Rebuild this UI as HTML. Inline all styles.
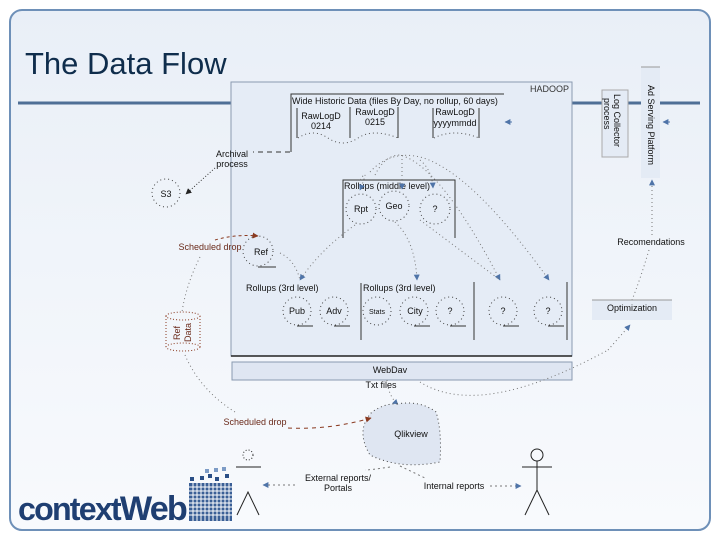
<!DOCTYPE html>
<html><head><meta charset="utf-8"><style>
body{margin:0;width:720px;height:540px;overflow:hidden;background:#fff}
svg{display:block}
text{font-family:"Liberation Sans",sans-serif}
</style></head><body>
<svg width="720" height="540" viewBox="0 0 720 540" xmlns="http://www.w3.org/2000/svg">
<defs>
<linearGradient id="bg" x1="0" y1="0" x2="0" y2="1"><stop offset="0" stop-color="#e9eff7"/><stop offset="1" stop-color="#f8fafd"/></linearGradient>
<marker id="a" viewBox="0 0 10 10" refX="9" refY="5" markerWidth="6" markerHeight="6" orient="auto"><path d="M0,0L10,5L0,10z" fill="#4f74a8"/></marker>
<marker id="ar" viewBox="0 0 10 10" refX="9" refY="5" markerWidth="6" markerHeight="6" orient="auto"><path d="M0,0L10,5L0,10z" fill="#8a3a20"/></marker>
<marker id="ak" viewBox="0 0 10 10" refX="9" refY="5" markerWidth="6" markerHeight="6" orient="auto"><path d="M0,0L10,5L0,10z" fill="#222"/></marker>
</defs>
<rect x="10" y="10" width="700" height="520" rx="12" fill="url(#bg)" stroke="#6e90b8" stroke-width="2"/>
<text x="25" y="74" font-size="31" fill="#0f2d4c">The Data Flow</text>
<line x1="18" y1="103" x2="232" y2="103" stroke="#4f6f96" stroke-width="3"/>
<line x1="572" y1="103" x2="700" y2="103" stroke="#4f6f96" stroke-width="3"/>
<!-- Hadoop -->
<rect x="231" y="82" width="341" height="274" fill="#e5ecf6" stroke="#8a9ab0" stroke-width="1"/>
<line x1="231" y1="356" x2="572" y2="356" stroke="#222" stroke-width="1.5"/>
<text x="569" y="92" font-size="9" text-anchor="end" fill="#333">HADOOP</text>
<path d="M291,152V94H504" fill="none" stroke="#333"/>
<text x="292" y="104" font-size="9" fill="#111">Wide Historic Data (files By Day, no rollup, 60 days)</text>
<g font-size="9" fill="#111" text-anchor="middle">
<path d="M297,138V108M350,138V107M398,138V107M433,138V108M479,138V108" stroke="#333"/>
<text x="321" y="119">RawLogD</text><text x="321" y="129">0214</text>
<text x="375" y="115">RawLogD</text><text x="375" y="125">0215</text>
<text x="455" y="115">RawLogD</text><text x="455" y="126">yyyymmdd</text>
<path d="M298,138q15,-10 30,0t30,0t40,0M434,138q20,-10 45,0" fill="none" stroke="#555" stroke-dasharray="1,3"/>
<path d="M512,122l-7,0" stroke="#4f74a8" marker-end="url(#a)"/>
<path d="M343,238V180H455V238" fill="none" stroke="#333"/>
<text x="387" y="189" font-size="9">Rollups (middle level)</text>
<g fill="none" stroke="#444" stroke-dasharray="1,3"><circle cx="361" cy="209" r="15"/><circle cx="394" cy="206" r="15"/><circle cx="435" cy="209" r="15"/></g>
<text x="361" y="212">Rpt</text><text x="394" y="209">Geo</text><text x="435" y="212">?</text>
<circle cx="258" cy="251" r="15" fill="none" stroke="#444" stroke-dasharray="1,3"/>
<text x="261" y="255">Ref</text><line x1="258" y1="267" x2="276" y2="267" stroke="#333"/>
<text x="246" y="291" font-size="9" text-anchor="start">Rollups (3rd level)</text>
<text x="363" y="291" font-size="9" text-anchor="start">Rollups (3rd level)</text>
<path d="M361,283V340M474,282V340M567,282V340" stroke="#333"/>
<g fill="none" stroke="#444" stroke-dasharray="1,3"><circle cx="297" cy="311" r="14"/><circle cx="334" cy="311" r="14"/><circle cx="377" cy="311" r="14"/><circle cx="414" cy="311" r="14"/><circle cx="450" cy="311" r="14"/><circle cx="503" cy="311" r="14"/><circle cx="548" cy="311" r="14"/></g>
<text x="297" y="314">Pub</text><text x="334" y="314">Adv</text><text x="377" y="314" font-size="7">Stats</text><text x="415" y="314">City</text><text x="450" y="314">?</text><text x="503" y="314">?</text><text x="548" y="314">?</text>
<path d="M297,326h16M334,326h16M414,326h16M450,326h16M503,326h16M548,326h16" stroke="#333"/>
<g fill="none" stroke="#777" stroke-dasharray="1,3">
<path d="M370,172Q390,150 420,157Q470,170 549,280" marker-end="url(#a)"/>
<path d="M375,175Q385,155 400,155Q440,165 500,280" marker-end="url(#a)"/>
<path d="M360,180Q370,165 360,190" marker-end="url(#a)"/>
<path d="M402,155V189" marker-end="url(#a)"/>
<path d="M420,160Q432,170 433,188" marker-end="url(#a)"/>
<path d="M355,225Q320,250 300,280" marker-end="url(#a)"/>
<path d="M395,222Q415,240 417,280" marker-end="url(#a)"/>
<path d="M420,220Q460,250 500,280"/>
<path d="M280,253Q295,260 300,280"/>
</g>
</g>
<rect x="232" y="362" width="340" height="18" fill="#dfe6f2" stroke="#8a9ab0"/>
<text x="390" y="373" font-size="9" text-anchor="middle" fill="#111">WebDav</text>
<text x="381" y="388" font-size="9" text-anchor="middle" fill="#111">Txt files</text>
<path d="M387,380Q388,395 398,405" fill="none" stroke="#777" stroke-dasharray="1,3" marker-end="url(#a)"/>
<path d="M397,404Q420,400 436,412Q442,430 440,462Q400,470 370,455Q355,430 372,412Q385,403 397,404z" fill="#dfe6f2" stroke="#444" stroke-dasharray="1,3"/>
<text x="411" y="437" font-size="9" text-anchor="middle" fill="#111">Qlikview</text>
<text x="255" y="425" font-size="9" text-anchor="middle" fill="#6a2a1a">Scheduled drop</text>
<path d="M288,428Q330,430 371,418" fill="none" stroke="#8a3a20" stroke-dasharray="4,4" marker-end="url(#ar)"/>
<g fill="none" stroke="#222"><circle cx="248" cy="455" r="5" stroke-dasharray="1,2"/><path d="M236,467H261M237,515L248,492L259,515"/>
<circle cx="537" cy="455" r="6"/><path d="M537,461V490M522,467H552M525,515L537,490L549,515"/></g>
<text x="338" y="481" font-size="9" text-anchor="middle" fill="#111">External reports/</text>
<text x="338" y="491" font-size="9" text-anchor="middle" fill="#111">Portals</text>
<text x="454" y="489" font-size="9" text-anchor="middle" fill="#111">Internal reports</text>
<g fill="none" stroke="#777" stroke-dasharray="2,3">
<path d="M295,485H263" marker-end="url(#a)"/><path d="M490,486H521" marker-end="url(#a)"/>
<path d="M390,467Q370,470 365,470"/><path d="M400,466L425,478"/>
</g>
<rect x="641" y="67" width="19" height="111" fill="#e4ebf5"/><line x1="641" y1="67" x2="660" y2="67" stroke="#999"/>
<text transform="translate(648,85) rotate(90)" font-size="9" fill="#111">Ad Serving Platform</text>
<rect x="602" y="90" width="26" height="67" fill="#e4ebf5" stroke="#aaa"/>
<text transform="translate(614,94) rotate(90)" font-size="9" fill="#111">Log Collector</text>
<text transform="translate(604,98) rotate(90)" font-size="9" fill="#111">process</text>
<path d="M670,122h-7" stroke="#4f74a8" marker-end="url(#a)"/>
<text x="651" y="245" font-size="9" text-anchor="middle" fill="#111">Recomendations</text>
<rect x="592" y="300" width="80" height="20" fill="#e4ebf5"/><line x1="592" y1="300" x2="672" y2="300" stroke="#999"/>
<text x="632" y="311" font-size="9" text-anchor="middle" fill="#111">Optimization</text>
<g fill="none" stroke="#777" stroke-dasharray="1,3">
<path d="M652,235V180" marker-end="url(#a)"/><path d="M649,250Q640,280 632,300"/>
<path d="M608,350L630,325" marker-end="url(#a)"/>
<path d="M420,382Q480,420 608,350"/>
</g>
<text x="232" y="157" font-size="9" text-anchor="middle" fill="#111">Archival</text>
<text x="232" y="167" font-size="9" text-anchor="middle" fill="#111">process</text>
<path d="M290,152H253" stroke="#333" stroke-dasharray="5,4"/>
<path d="M215,168L186,194" fill="none" stroke="#333" stroke-dasharray="1,2" marker-end="url(#ak)"/>
<circle cx="166" cy="193" r="14" fill="none" stroke="#444" stroke-dasharray="1,3"/>
<text x="166" y="197" font-size="9" text-anchor="middle" fill="#111">S3</text>
<text x="210" y="250" font-size="9" text-anchor="middle" fill="#6a2a1a">Scheduled drop</text>
<path d="M215,240Q235,234 258,236" fill="none" stroke="#8a3a20" stroke-dasharray="3,3" marker-end="url(#ar)"/>
<path d="M200,257Q186,285 182,312" fill="none" stroke="#777" stroke-dasharray="1,3"/>
<path d="M166,316V347M200,316V347" stroke="#8a3a20" stroke-dasharray="1,2"/>
<ellipse cx="183" cy="316" rx="17" ry="4" fill="none" stroke="#8a3a20" stroke-dasharray="1,2"/>
<ellipse cx="183" cy="347" rx="17" ry="4" fill="none" stroke="#8a3a20" stroke-dasharray="1,2"/>
<text transform="translate(180,340) rotate(-90)" font-size="9" fill="#6a2a1a">Ref</text>
<text transform="translate(191,342) rotate(-90)" font-size="9" fill="#6a2a1a">Data</text>
<path d="M185,355Q200,390 235,412" fill="none" stroke="#777" stroke-dasharray="1,3"/>
<text x="18" y="520" font-size="32" font-weight="bold" fill="#1f3f72" letter-spacing="-1.8" textLength="168" lengthAdjust="spacingAndGlyphs">context<tspan font-size="34">Web</tspan></text>
<g fill="#2a4f86">
<rect x="189" y="483" width="43" height="38" fill="#3a5f96"/>
<path d="M189,487H232M189,491H232M189,495H232M189,499H232M189,503H232M189,507H232M189,511H232M189,515H232M193,483V521M197,483V521M201,483V521M205,483V521M209,483V521M213,483V521M217,483V521M221,483V521M225,483V521M229,483V521" stroke="#fff" stroke-width="1"/>
<rect x="190" y="477" width="4" height="4"/><rect x="200" y="476" width="4" height="4"/><rect x="208" y="474" width="4" height="4"/><rect x="215" y="477" width="4" height="4"/><rect x="225" y="474" width="4" height="4"/>
<rect x="205" y="469" width="4" height="4" fill="#7d9cc6"/><rect x="214" y="468" width="4" height="4" fill="#7d9cc6"/><rect x="222" y="467" width="4" height="4" fill="#7d9cc6"/>
</g>
</svg>
</body></html>
